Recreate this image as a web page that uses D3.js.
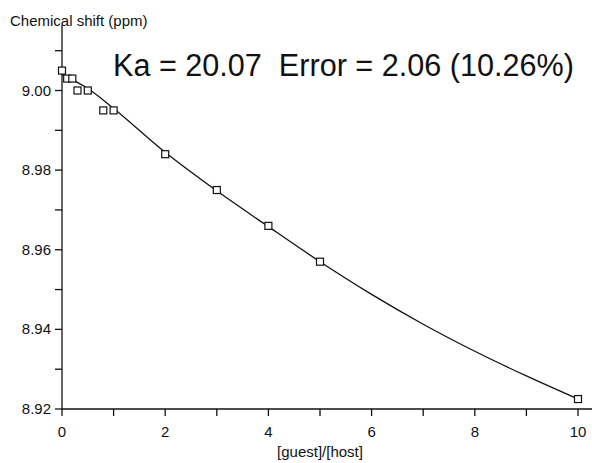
<html>
<head>
<meta charset="utf-8" />
<script src="https://d3js.org/d3.v7.min.js"></script>
<style>
  body { margin: 0; background: #fff; }
  text { font-family: "Liberation Sans", Arial, sans-serif; fill: #111; }
</style>
</head>
<body>
<div class="container"></div>
<script>
  // measured points ([guest]/[host], shift in ppm)
  const ratio = [0, 0.1, 0.2, 0.3, 0.5, 0.8, 1, 2, 3, 4, 5, 10];
  const shift = [9.005, 9.003, 9.003, 9.0, 9.0, 8.995, 8.995, 8.984, 8.975, 8.966, 8.957, 8.9225];

  // fitted curve
  const fitX = [0, 0.5, 1, 2, 3, 4, 5, 6, 7, 8, 9, 10];
  const fitY = [9.004, 9.0005, 8.9955, 8.9845, 8.9748, 8.9658, 8.957, 8.9488, 8.9413, 8.9345, 8.9283, 8.9225];

  const xTicks = [0, 2, 4, 6, 8, 10];
  const xMinor = [1, 3, 5, 7, 9];
  const yTicks = [8.92, 8.94, 8.96, 8.98, 9.0];
  const yMinor = [8.93, 8.95, 8.97, 8.99, 9.01];

  const width = 592, height = 463;

  const x = d3.scaleLinear().domain([0, 10]).range([62, 578]);
  const y = d3.scaleLinear().domain([8.92, 9.0]).range([409, 90.5]);

  const svg = d3.select(".container").append("svg")
    .attr("width", width).attr("height", height);

  const ax = svg.append("g").attr("stroke", "#111").attr("stroke-width", 1.3);

  // axis lines
  ax.append("line").attr("x1", x(0)).attr("x2", 592).attr("y1", y(8.92)).attr("y2", y(8.92));
  ax.append("line").attr("x1", x(0)).attr("x2", x(0)).attr("y1", y(8.92)).attr("y2", 25);

  ax.selectAll(".xt").data(xTicks.concat(xMinor)).join("line")
    .attr("x1", d => x(d)).attr("x2", d => x(d))
    .attr("y1", y(8.92)).attr("y2", y(8.92) + 7);

  ax.selectAll(".yt").data(yTicks.concat(yMinor)).join("line")
    .attr("x1", x(0) - 7).attr("x2", x(0))
    .attr("y1", d => y(d)).attr("y2", d => y(d));

  svg.selectAll(".xl").data(xTicks).join("text")
    .attr("x", d => x(d)).attr("y", y(8.92) + 28)
    .attr("text-anchor", "middle").attr("font-size", 15)
    .text(d => d);

  svg.selectAll(".yl").data(yTicks).join("text")
    .attr("x", x(0) - 11).attr("y", d => y(d) + 5)
    .attr("text-anchor", "end").attr("font-size", 15)
    .text(d => d3.format(".2f")(d));

  // fitted curve
  const line = d3.line().x(d => x(d[0])).y(d => y(d[1])).curve(d3.curveMonotoneX);
  svg.append("path")
    .datum(fitX.map((v, i) => [v, fitY[i]]))
    .attr("d", line)
    .attr("fill", "none").attr("stroke", "#111").attr("stroke-width", 1.3);

  // markers
  const s = 7;
  svg.selectAll(".pt").data(ratio.map((v, i) => [v, shift[i]])).join("rect")
    .attr("x", d => x(d[0]) - s / 2).attr("y", d => y(d[1]) - s / 2)
    .attr("width", s).attr("height", s)
    .attr("fill", "#fff").attr("stroke", "#111").attr("stroke-width", 1.2);

  svg.append("text").attr("x", 10).attr("y", 26).attr("font-size", 15)
    .text("Chemical shift (ppm)");

  svg.append("text").attr("x", 320).attr("y", 457).attr("font-size", 15)
    .attr("text-anchor", "middle").text("[guest]/[host]");

  svg.append("text").attr("x", 113).attr("y", 76).attr("font-size", 30.6)
    .attr("xml:space", "preserve").style("white-space", "pre")
    .text("Ka = 20.07  Error = 2.06 (10.26%)");
</script>
</body>
</html>
